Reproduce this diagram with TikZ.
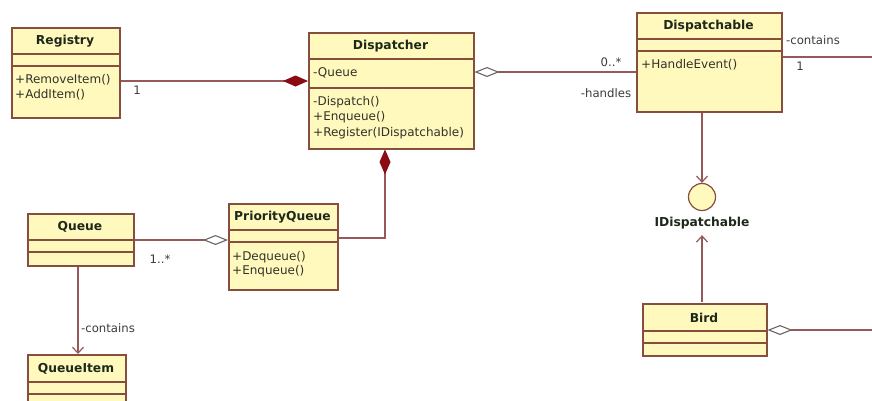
\documentclass[tikz,border=0pt]{standalone}
\usepackage{fontspec}
\setmainfont{DejaVu Sans}
\usetikzlibrary{arrows.meta}
\definecolor{boxfill}{RGB}{255,249,190}
\definecolor{boxdraw}{RGB}{135,78,62}
\definecolor{linec}{RGB}{150,88,88}
\definecolor{dfill}{RGB}{140,12,20}
\definecolor{titlec}{RGB}{30,40,25}
\definecolor{membc}{RGB}{50,50,40}
\definecolor{lblc}{RGB}{60,60,60}
\definecolor{odiam}{RGB}{110,100,100}
\newcommand{\umlclassbox}[8]{%
  \node[cls, minimum width=#4pt, minimum height=#5pt] (#1) at (#2,#3) {};
  \draw[sepline] (#2,{#3+#6}) -- ({#2+#4},{#3+#6});
  \draw[sepline] (#2,{#3+#7}) -- ({#2+#4},{#3+#7});
  \node[ctitle] (#1-t) at ({#2+#4/2},{#3+#6/2+0.5}) {#8};
}
\tikzset{
  fdiam/.tip={Diamond[length=25pt,width=11pt,fill=dfill,color=dfill]},
  odia/.tip={Diamond[open,length=25pt,width=10pt,fill=white,color=odiam,line width=1.1pt]},
  vtip/.tip={Straight Barb[length=6pt,width=11pt,line width=1.2pt]}
}
\begin{document}
\begin{tikzpicture}[x=1pt,y=-1pt,
  cls/.style={draw=boxdraw, fill=boxfill, line width=1.5pt, anchor=north west, inner sep=0pt},
  sepline/.style={draw=boxdraw, line width=1.3pt},
  ctitle/.style={font=\fontsize{12.3}{14}\selectfont\bfseries, text=titlec, inner sep=0pt},
  memb/.style={font=\fontsize{12}{14}\selectfont, text=membc, anchor=west, inner sep=0pt},
  conn/.style={draw=linec, line width=1.3pt},
  lbl/.style={font=\fontsize{11.7}{13}\selectfont, text=lblc, inner sep=0pt}]

\useasboundingbox[fill=white] (0,0) rectangle (872,400);

% classes
\umlclassbox{reg}{11}{27}{108}{90}{27}{39}{Registry}
\node[memb] (reg-m1) at (15,80) {+RemoveItem()};
\node[memb] (reg-m2) at (15,95) {+AddItem()};

\umlclassbox{disp}{308}{32}{165}{116}{27}{56}{Dispatcher}
\node[memb] (disp-a) at (313,73) {-Queue};
\node[memb] (disp-m1) at (313,102) {-Dispatch()};
\node[memb] (disp-m2) at (313,117) {+Enqueue()};
\node[memb] (disp-m3) at (313,133) {+Register(IDispatchable)};

\umlclassbox{dable}{636}{12}{145}{99}{27}{39}{Dispatchable}
\node[memb] (dable-m1) at (641,65) {+HandleEvent()};

\umlclassbox{pq}{228}{203}{109}{86}{27}{39}{PriorityQueue}
\node[memb] (pq-m1) at (232,257) {+Dequeue()};
\node[memb] (pq-m2) at (232,271) {+Enqueue()};

\umlclassbox{queue}{27}{213}{106}{52}{27}{39}{Queue}

\umlclassbox{qitem}{27}{354}{98}{60}{28}{40}{QueueItem}

\umlclassbox{bird}{642}{303}{124}{52}{28}{40}{Bird}

% interface
\node[circle, draw=boxdraw, fill=boxfill, line width=1.2pt, minimum size=27pt, inner sep=0pt] (idisp) at (702,197) {};
\node[ctitle] (idisp-t) at (702,223) {IDispatchable};

% connectors
\draw[conn, fdiam-] (disp.west |- 0,81) -- (reg.east |- 0,81);
\draw[conn, odia-] (disp.east |- 0,72) -- (dable.west |- 0,72);
\coordinate (rightA) at (872,57);
\draw[conn] (dable.east |- rightA) -- (rightA);
\draw[conn, -vtip] (dable.south -| idisp) -- (idisp.north);
\draw[conn, -vtip] ([yshift=0.8pt]bird.north -| idisp) -- ([yshift=-6pt]idisp-t.south);
\coordinate (rightB) at (872,330);
\draw[conn, odia-] (bird.east |- rightB) -- (rightB);
\draw[conn, odia-] (pq.west |- 0,240) -- (queue.east |- 0,240);
\coordinate (bend) at (385,238);
\draw[conn, fdiam-] (disp.south -| bend) -- (bend) -- (pq.east |- bend);
\draw[conn, -vtip] (queue.south -| 78,0) -- (qitem.north -| 78,0);

% labels
\node[lbl] (l1) at (137,90) {1};
\node[lbl] (l2) at (611,62) {0..*};
\node[lbl] (l3) at (606,93) {-handles};
\node[lbl] (l4) at (813,40) {-contains};
\node[lbl] (l5) at (800,66) {1};
\node[lbl] (l6) at (160,259) {1..*};
\node[lbl] (l7) at (108,328) {-contains};
\end{tikzpicture}
\end{document}
